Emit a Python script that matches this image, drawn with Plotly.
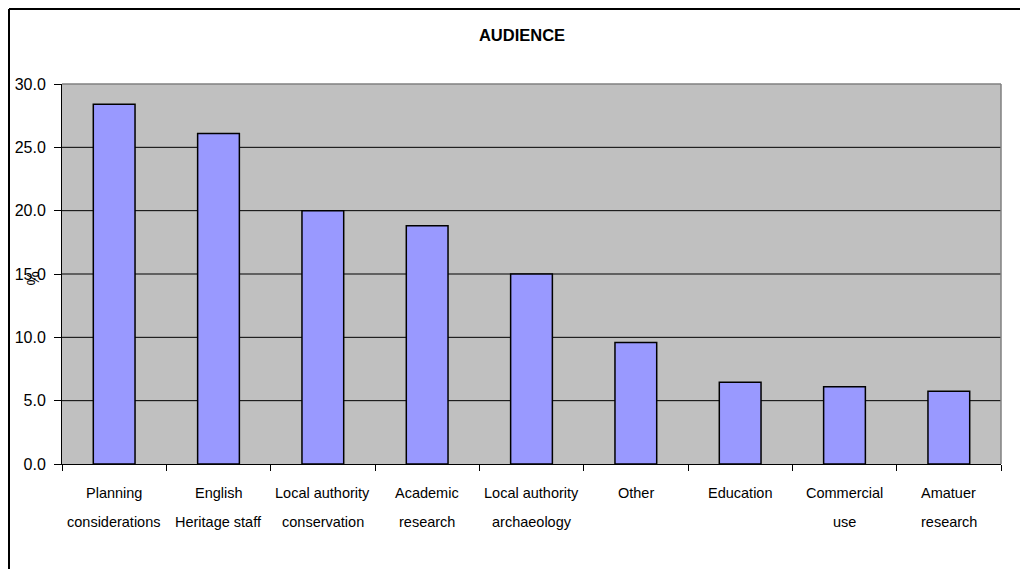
import plotly.graph_objects as go

# Audience categories (two-line labels) and their shares in percent
categories = [
    "Planning considerations",
    "English Heritage staff",
    "Local authority conservation",
    "Academic research",
    "Local authority archaeology",
    "Other",
    "Education",
    "Commercial use",
    "Amatuer research",
]
label_line1 = ["Planning", "English", "Local authority", "Academic", "Local authority",
               "Other", "Education", "Commercial", "Amatuer"]
label_line2 = ["considerations", "Heritage staff", "conservation", "research", "archaeology",
               "", "", "use", "research"]
values = [28.4, 26.1, 20.0, 18.8, 15.0, 9.6, 6.45, 6.1, 5.75]
y_ticks = [0, 5, 10, 15, 20, 25, 30]

FONT = "Liberation Sans, Arial, sans-serif"

fig = go.Figure(
    go.Bar(
        x=categories,
        y=values,
        marker=dict(color="#9999FF", line=dict(color="#000000", width=1.5)),
    )
)

L, R, T, B = 62, 19, 84, 105
W, H = 1020, 569
pw, ph = W - L - R, H - T - B

def px_to_paper_x(px):
    return (px - L) / pw

def px_to_paper_y(py):
    return (H - B - py) / ph

shapes = []
# interior gridlines
for v in y_ticks[1:-1]:
    shapes.append(dict(type="line", xref="paper", yref="y", x0=0, x1=1, y0=v, y1=v,
                       line=dict(color="#000000", width=1), layer="below"))
# plot-area frame (top and right)
shapes.append(dict(type="line", xref="paper", yref="paper", x0=0, x1=1, y0=1, y1=1,
                   line=dict(color="#808080", width=1.5)))
shapes.append(dict(type="line", xref="paper", yref="paper", x0=1, x1=1, y0=0, y1=1,
                   line=dict(color="#808080", width=1.5)))
# outer chart border (top and left edges)
bx, by = px_to_paper_x(9), px_to_paper_y(9)
shapes.append(dict(type="line", xref="paper", yref="paper", x0=bx, x1=1.1, y0=by, y1=by,
                   line=dict(color="#000000", width=2)))
shapes.append(dict(type="line", xref="paper", yref="paper", x0=bx, x1=bx, y0=by, y1=-0.5,
                   line=dict(color="#000000", width=2)))

annotations = []
for cat, l1, l2 in zip(categories, label_line1, label_line2):
    annotations.append(dict(x=cat, xref="x", y=px_to_paper_y(493), yref="paper",
                            text=l1, showarrow=False, xanchor="center", yanchor="middle",
                            font=dict(family=FONT, size=14.5, color="#000000")))
    if l2:
        annotations.append(dict(x=cat, xref="x", y=px_to_paper_y(522), yref="paper",
                                text=l2, showarrow=False, xanchor="center", yanchor="middle",
                                font=dict(family=FONT, size=14.5, color="#000000")))
# axis title
annotations.append(dict(x=px_to_paper_x(22), y=px_to_paper_y(279), xref="paper", yref="paper",
                        text="%", textangle=-90, showarrow=False,
                        font=dict(family=FONT, size=16, color="#000000")))

fig.update_layout(
    width=W,
    height=H,
    margin=dict(l=L, r=R, t=T, b=B, pad=0),
    paper_bgcolor="#FFFFFF",
    plot_bgcolor="#C0C0C0",
    bargap=0.6,
    showlegend=False,
    title=dict(text="<b>AUDIENCE</b>", x=522 / W, xanchor="center", y=1 - 35 / H,
               yanchor="middle", font=dict(family=FONT, size=16.5, color="#000000")),
    font=dict(family=FONT, color="#000000"),
    shapes=shapes,
    annotations=annotations,
)

fig.update_xaxes(
    type="category",
    showticklabels=False,
    tickson="boundaries",
    ticks="outside",
    ticklen=6,
    tickcolor="#000000",
    showline=True,
    linecolor="#000000",
    linewidth=1,
    showgrid=False,
)
fig.update_yaxes(
    range=[0, 30],
    tickvals=y_ticks,
    tickformat=".1f",
    ticks="outside",
    ticklen=7,
    tickcolor="#000000",
    ticklabelstandoff=5,
    showline=True,
    linecolor="#000000",
    linewidth=1,
    showgrid=False,
    zeroline=False,
    tickfont=dict(family=FONT, size=16, color="#000000"),
)

fig.write_html("out.html")
